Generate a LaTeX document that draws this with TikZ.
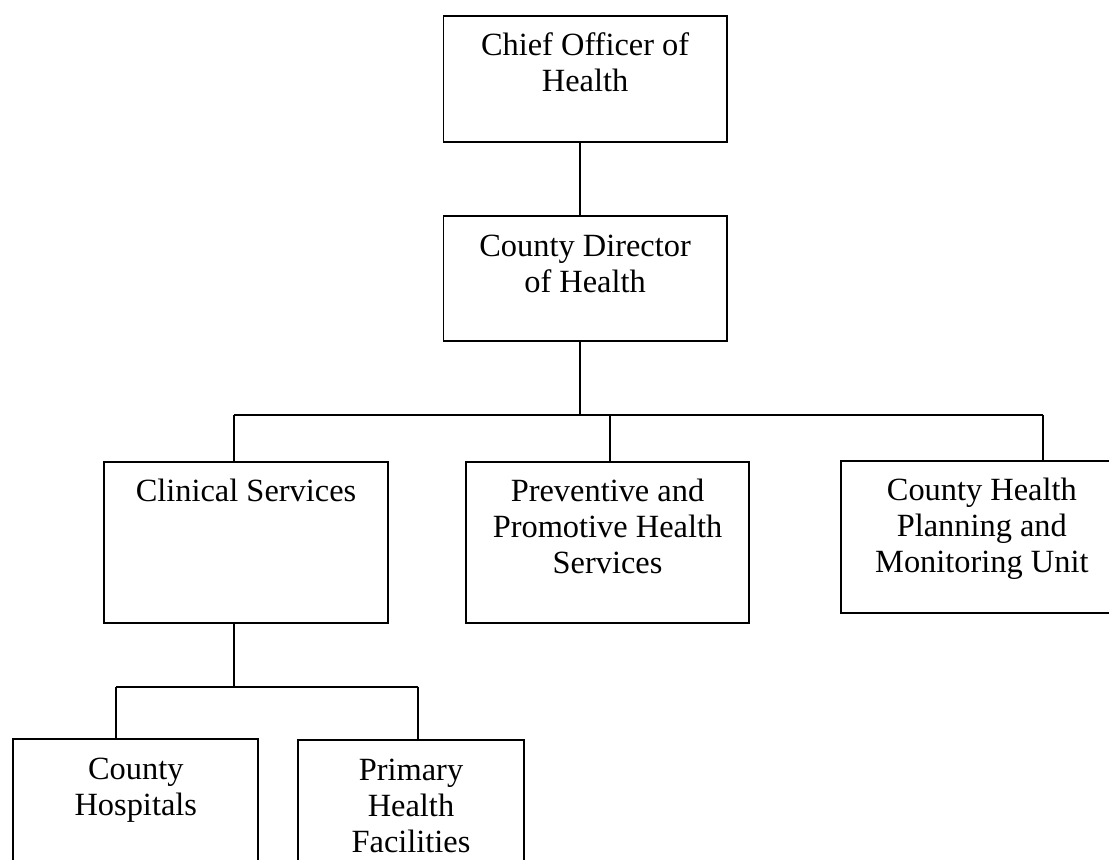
\documentclass[tikz,border=0pt]{standalone}
\usepackage{fontspec}
\setmainfont{Liberation Serif}
\begin{document}
\begin{tikzpicture}[x=0.5pt,y=-0.5pt,
  box/.style={draw=black,line width=0.9pt,inner sep=0pt,outer sep=0pt,anchor=north west},
  lbl/.style={inner sep=0pt,anchor=base,font=\fontsize{16.2}{18}\selectfont},
  wire/.style={draw=black,line width=0.9pt}]
\useasboundingbox (0,0) rectangle (1109,859);
\clip (0,0) rectangle (1109,859);
\fill[white] (0,0) rectangle (1109,859);

% boxes: top-left corner, width and height in pixel units
\newcommand{\orgbox}[5]{%
  \node[box,minimum width=#4*0.5pt,minimum height=#5*0.5pt] (#1) at (#2,#3) {};}
\orgbox{chief}{443.5}{15.7}{283.2}{126}
\orgbox{director}{443.5}{216}{283.2}{125}
\orgbox{clinical}{104.3}{461.7}{283.4}{161.6}
\orgbox{preventive}{466}{461.7}{283}{161.6}
\orgbox{planning}{840.7}{460.7}{282.3}{152}
\orgbox{hospitals}{13.3}{739}{245}{160}
\orgbox{primary}{297.7}{740}{226.6}{160}

% labels, first baseline 40 units below each box top
\newcommand{\orglabel}[3]{%
  \node[lbl] (#1) at ([yshift=-20pt]#2.north) {\begin{tabular}[t]{@{}c@{}}#3\end{tabular}};}
\orglabel{chiefT}{chief}{Chief Officer of\\Health}
\orglabel{directorT}{director}{County Director\\of Health}
\orglabel{clinicalT}{clinical}{Clinical Services}
\orglabel{preventiveT}{preventive}{Preventive and\\Promotive Health\\Services}
\orglabel{planningT}{planning}{County Health\\Planning and\\Monitoring Unit}
\orglabel{hospitalsT}{hospitals}{County\\Hospitals}
\orglabel{primaryT}{primary}{Primary\\Health\\Facilities}

% junction points of the connector tree
\coordinate (trunk) at (580.3,415);
\coordinate (busL) at (234,415);
\coordinate (busM) at (610.3,415);
\coordinate (busR) at (1042.7,415);
\coordinate (sub) at (234,686.7);
\coordinate (subL) at (116.3,686.7);
\coordinate (subR) at (417.7,686.7);

\draw[wire] (chief.south -| trunk) -- (director.north -| trunk);
\draw[wire] (director.south -| trunk) -- (trunk);
\draw[wire] (busL) -- (busR);
\draw[wire] (busL) -- (clinical.north -| busL);
\draw[wire] (busM) -- (preventive.north -| busM);
\draw[wire] (busR) -- (planning.north -| busR);
\draw[wire] (clinical.south -| sub) -- (sub);
\draw[wire] (subL) -- (subR);
\draw[wire] (subL) -- (hospitals.north -| subL);
\draw[wire] (subR) -- (primary.north -| subR);
\end{tikzpicture}
\end{document}
